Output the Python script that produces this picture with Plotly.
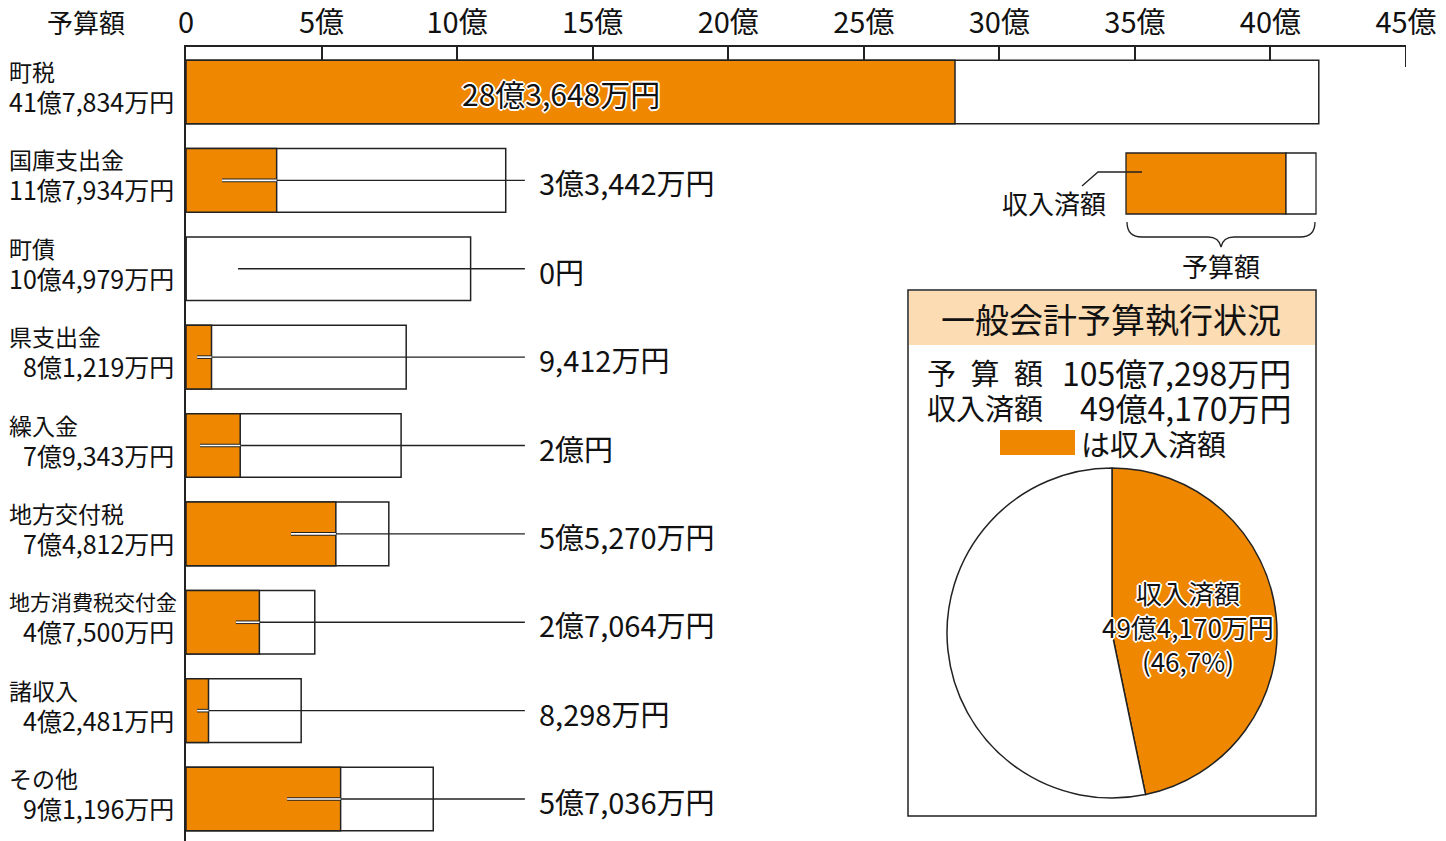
import plotly.graph_objects as go

# ---- data (万円) ----
categories = ["町税", "国庫支出金", "町債", "県支出金", "繰入金", "地方交付税",
              "地方消費税交付金", "諸収入", "その他"]
budget_man = [417834, 117934, 104979, 81219, 79343, 74812, 47500, 42481, 91196]
received_man = [283648, 33442, 0, 9412, 20000, 55270, 27064, 8298, 57036]
tick_vals = [0, 5, 10, 15, 20, 25, 30, 35, 40, 45]
tick_text = ["0", "5億", "10億", "15億", "20億", "25億", "30億", "35億", "40億", "45億"]

# ---- style / layout constants ----
ORANGE = "#EF8700"
PEACH = "#FBDCB3"
DARK = "#222222"
FONT = "Noto Sans CJK JP"
W, H = 1446, 841
L, R, T, B = 186, 40, 47, 0
PW, PH = W - L - R, H - T - B
leader_start = [1.33, 1.92, 0.41, 0.52, 3.87, 1.84, 0.41, 3.73]  # rows 1..8 (億)
leader_end = 12.5
label_x = 12.95
name_sizes = [23, 23, 23, 23, 23, 23, 21, 23, 23]


def PX(x):
    return (x - L) / PW


def PY(y):
    return (H - y) / PH


def fmt(man):
    oku, rest = divmod(int(man), 10000)
    s = ""
    if oku:
        s += f"{oku}億"
    if rest:
        s += f"{rest:,}万"
    if not s:
        s = "0"
    return s + "円"


def ann(x, y, text, size, xanchor="center", shadow=None, xref="paper", yref="paper",
        yshift=0):
    f = dict(size=size, color="#111", family=FONT)
    if shadow:
        f["shadow"] = shadow
    return dict(x=x, y=y, xref=xref, yref=yref, text=text, showarrow=False,
                xanchor=xanchor, yanchor="middle", yshift=yshift, font=f)


budget = [v / 10000 for v in budget_man]
received = [v / 10000 for v in received_man]
ypos = list(range(len(categories)))

fig = go.Figure()
fig.add_trace(go.Bar(x=budget, y=ypos, orientation="h", width=0.72,
                     marker=dict(color="white", line=dict(color=DARK, width=1.5)),
                     hoverinfo="skip", showlegend=False))
fig.add_trace(go.Bar(x=received, y=ypos, orientation="h", width=0.72,
                     marker=dict(color=ORANGE, line=dict(color=DARK, width=1.5)),
                     hoverinfo="skip", showlegend=False))

annotations = []
outline = ("1px 1px 0 white, -1px -1px 0 white, 1px -1px 0 white, -1px 1px 0 white, "
           "2px 0 0 white, -2px 0 0 white, 0 2px 0 white, 0 -2px 0 white")

# leader lines and value labels
for i in range(1, len(categories)):
    s = leader_start[i - 1]
    fig.add_trace(go.Scatter(x=[s, leader_end], y=[i, i], mode="lines",
                             line=dict(color=DARK, width=1.4), hoverinfo="skip",
                             showlegend=False))
    if received[i] > s:
        fig.add_trace(go.Scatter(x=[s, received[i]], y=[i, i], mode="lines",
                                 line=dict(color=DARK, width=3.6), hoverinfo="skip",
                                 showlegend=False))
        fig.add_trace(go.Scatter(x=[s, received[i]], y=[i, i], mode="lines",
                                 line=dict(color="white", width=1.6), hoverinfo="skip",
                                 showlegend=False))
    annotations.append(ann(label_x, i, fmt(received_man[i]), 29, xanchor="left",
                           xref="x", yref="y", yshift=-2))

# label inside first bar
annotations.append(ann(received[0] / 2 - 0.35, 0, fmt(received_man[0]), 30,
                       shadow=outline, xref="x", yref="y", yshift=-1))

# category labels
for i, c in enumerate(categories):
    annotations.append(ann(PX(7), i, c, name_sizes[i], xanchor="left", yref="y", yshift=21))
    annotations.append(ann(PX(176), i, fmt(budget_man[i]), 25, xanchor="right", yref="y",
                           yshift=-9))

annotations.append(ann(PX(86), PY(21), "予算額", 26))

# ---- info box ----
shapes = []
shapes.append(dict(type="rect", xref="paper", yref="paper", x0=PX(908), x1=PX(1316),
                   y0=PY(816), y1=PY(290), fillcolor="white", line=dict(color=DARK, width=1.5),
                   layer="below"))
shapes.append(dict(type="rect", xref="paper", yref="paper", x0=PX(909), x1=PX(1315),
                   y0=PY(345), y1=PY(291), fillcolor=PEACH, line=dict(width=0), layer="below"))
annotations.append(ann(PX(1111), PY(319), "一般会計予算執行状況", 34))
tot_b = sum(budget_man)
tot_r = sum(received_man)
for yy, lab, val in [(372, "予\u2002算\u2002額", fmt(tot_b)), (407, "収入済額", fmt(tot_r))]:
    annotations.append(ann(PX(925), PY(yy), lab, 29, xanchor="left"))
    annotations.append(ann(PX(1293), PY(yy), val, 32, xanchor="right"))
shapes.append(dict(type="rect", xref="paper", yref="paper", x0=PX(1000), x1=PX(1075),
                   y0=PY(455), y1=PY(430), fillcolor=ORANGE, line=dict(width=0)))
annotations.append(ann(PX(1079), PY(443), "は収入済額", 29, xanchor="left"))

pct = f"{tot_r / tot_b * 100:.1f}".replace(".", ",")
fig.add_trace(go.Pie(values=[tot_r, tot_b - tot_r], sort=False, direction="clockwise",
                     rotation=0, textinfo="none", hoverinfo="skip", showlegend=False,
                     marker=dict(colors=[ORANGE, "white"], line=dict(color=DARK, width=1.5)),
                     domain=dict(x=[PX(947), PX(1277)], y=[PY(798), PY(468)])))
annotations.append(ann(PX(1188), PY(626), f"収入済額<br>{fmt(tot_r)}<br>({pct}%)", 26,
                       shadow=outline))

# ---- legend sample (top right) ----
shapes.append(dict(type="rect", xref="paper", yref="paper", x0=PX(1126), x1=PX(1286),
                   y0=PY(214), y1=PY(153), fillcolor=ORANGE, line=dict(color=DARK, width=1.3)))
shapes.append(dict(type="rect", xref="paper", yref="paper", x0=PX(1286), x1=PX(1316),
                   y0=PY(214), y1=PY(153), fillcolor="white", line=dict(color=DARK, width=1.3)))
shapes.append(dict(type="path", xref="paper", yref="paper",
                   path=f"M {PX(1082)},{PY(186)} L {PX(1098)},{PY(172)} L {PX(1142)},{PY(172)}",
                   line=dict(color=DARK, width=1.3)))
brace = (f"M {PX(1127)},{PY(222)} Q {PX(1127)},{PY(237)} {PX(1142)},{PY(237)} "
         f"L {PX(1208)},{PY(237)} Q {PX(1219)},{PY(237)} {PX(1221)},{PY(247)} "
         f"Q {PX(1223)},{PY(237)} {PX(1234)},{PY(237)} "
         f"L {PX(1300)},{PY(237)} Q {PX(1315)},{PY(237)} {PX(1315)},{PY(222)}")
shapes.append(dict(type="path", xref="paper", yref="paper", path=brace,
                   line=dict(color=DARK, width=1.3)))
annotations.append(ann(PX(1108), PY(202), "収入済額", 26, xanchor="right"))
annotations.append(ann(PX(1221), PY(265), "予算額", 26))

# extended end tick at 45
shapes.append(dict(type="line", xref="x", yref="paper", x0=45, x1=45, y0=1, y1=PY(67),
                   line=dict(color=DARK, width=2)))

fig.update_layout(
    width=W, height=H, margin=dict(l=L, r=R, t=T, b=B, autoexpand=False),
    paper_bgcolor="white", plot_bgcolor="white", barmode="overlay",
    annotations=annotations, shapes=shapes,
    font=dict(family=FONT, color="#111"),
    xaxis=dict(side="top", range=[0, 45], tickvals=tick_vals, ticktext=tick_text,
               ticks="inside", ticklen=13, tickwidth=2, tickcolor=DARK,
               showline=True, linecolor=DARK, linewidth=2, showgrid=False, zeroline=False,
               ticklabelstandoff=0, automargin=False,
               tickfont=dict(size=29, family=FONT, color="#111")),
    yaxis=dict(range=[8.475, -0.509], showticklabels=False, ticks="", showgrid=False,
               zeroline=False, showline=True, linecolor=DARK, linewidth=2, automargin=False),
)

fig.write_html("out.html", config={"displayModeBar": False},
               post_script="document.body.style.margin='0px';")
